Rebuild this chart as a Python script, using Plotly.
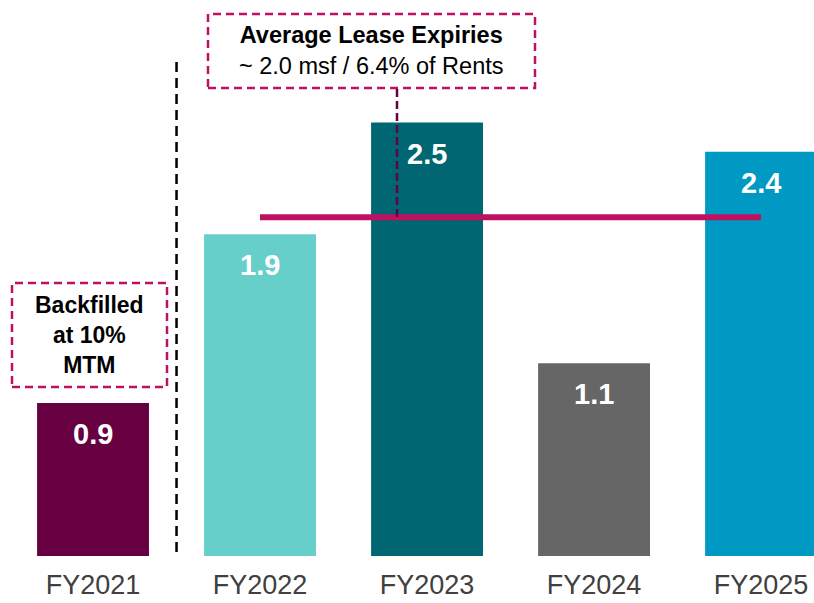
import plotly.graph_objects as go

# ---- data ----
categories = ["FY2021", "FY2022", "FY2023", "FY2024", "FY2025"]
values = [0.89, 1.87, 2.52, 1.12, 2.35]
value_labels = ["0.9", "1.9", "2.5", "1.1", "2.4"]
bar_colors = ["#660040", "#66CFC9", "#006672", "#666666", "#0099C4"]
avg_value = 1.97
avg_span = ["FY2022", "FY2025"]

W, H = 814, 603
PLOT_BOTTOM = 556  # pixel of y=0
PINK = "#BE1162"
FONT = "Liberation Sans, Arial, sans-serif"

def px(x):
    return x / W

def py(y):
    return (PLOT_BOTTOM - y) / PLOT_BOTTOM

fig = go.Figure()
fig.add_trace(go.Bar(
    x=categories, y=values, marker=dict(color=bar_colors, line=dict(width=0)),
    width=0.67, hoverinfo="skip", showlegend=False,
))
fig.add_trace(go.Scatter(
    x=avg_span, y=[avg_value, avg_value], mode="lines",
    line=dict(color=PINK, width=6), hoverinfo="skip", showlegend=False,
))

annotations = []
for c, v, t in zip(categories, values, value_labels):
    annotations.append(dict(x=c, y=v, text=f"<b>{t}</b>", showarrow=False,
                            yanchor="middle", yshift=-31,
                            font=dict(family=FONT, size=29, color="white")))

# Average box text
annotations.append(dict(xref="paper", yref="paper", x=px(371), y=py(51),
                        text="<b>Average Lease Expiries</b><br>~ 2.0 msf / 6.4% of Rents",
                        showarrow=False, align="center", xanchor="center", yanchor="middle",
                        font=dict(family=FONT, size=23.5, color="black")))
# Backfilled box text
annotations.append(dict(xref="paper", yref="paper", x=px(89), y=py(335),
                        text="<b>Backfilled<br>at 10%<br>MTM</b>",
                        showarrow=False, align="center", xanchor="center", yanchor="middle",
                        font=dict(family=FONT, size=23, color="black")))

shapes = [
    dict(type="rect", xref="paper", yref="paper", x0=px(208), x1=px(535), y0=py(88), y1=py(14),
         line=dict(color=PINK, width=2.5, dash="8px,5px"), fillcolor="rgba(0,0,0,0)"),
    dict(type="rect", xref="paper", yref="paper", x0=px(12), x1=px(167), y0=py(387), y1=py(283),
         line=dict(color=PINK, width=2.5, dash="8px,5px"), fillcolor="rgba(0,0,0,0)"),
    dict(type="line", xref="paper", yref="paper", x0=px(397), x1=px(397), y0=py(89), y1=py(217),
         line=dict(color="#660040", width=2.5, dash="8px,4px")),
    dict(type="line", xref="x", yref="paper", x0=0.5, x1=0.5, y0=py(62), y1=py(552),
         line=dict(color="black", width=2.5, dash="10px,6px")),
]

fig.update_layout(
    width=W, height=H,
    margin=dict(l=0, r=0, t=0, b=H - PLOT_BOTTOM, pad=0, autoexpand=False),
    paper_bgcolor="white", plot_bgcolor="white",
    annotations=annotations, shapes=shapes,
    bargap=0.33,
    xaxis=dict(type="category", range=[-0.557, 4.317], showgrid=False, zeroline=False,
               showline=False, ticks="", ticklabelstandoff=10, automargin=False,
               tickfont=dict(family=FONT, size=27, color="#404040")),
    yaxis=dict(range=[0, PLOT_BOTTOM / 172], visible=False, showgrid=False, zeroline=False,
               automargin=False),
)

fig.write_html("out.html", config={"displayModeBar": False},
               post_script="document.body.style.margin='0';document.body.style.overflow='hidden';")
